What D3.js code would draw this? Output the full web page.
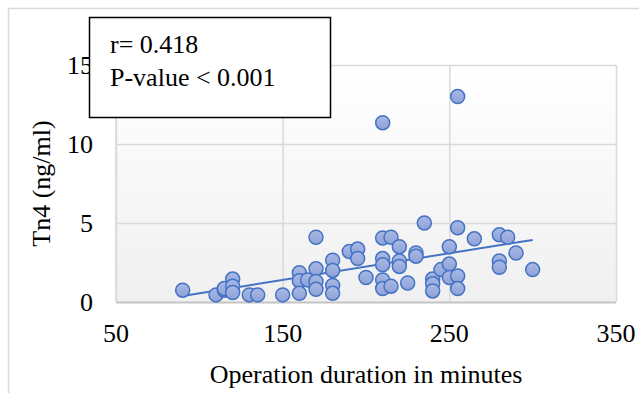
<!DOCTYPE html>
<html>
<head>
<meta charset="utf-8">
<script src="https://cdn.jsdelivr.net/npm/d3@7"></script>
<style>
  body { margin: 0; background: #fff; }
  text { font-family: "Liberation Serif", "Times New Roman", serif; fill: #000; }
</style>
</head>
<body>
<svg width="639" height="393"></svg>
<script>
// duration (minutes) and Tn4 (ng/ml)
var durations = [90, 110, 115, 115, 120, 120, 120, 130, 135, 150,
  160, 160, 160, 165, 170, 170, 170, 170, 180, 180, 180, 180,
  190, 195, 195, 200, 210, 210, 210, 210, 210, 210, 215, 215,
  220, 220, 220, 225, 230, 230, 235, 240, 240, 240, 245,
  250, 250, 250, 255, 255, 255, 255, 265, 280, 280, 280, 285, 290, 300];
var tn4 = [0.75, 0.45, 0.75, 0.85, 1.45, 1.0, 0.6, 0.45, 0.45, 0.45,
  1.85, 1.35, 0.55, 1.4, 4.1, 2.1, 1.3, 0.8, 2.65, 2.0, 1.05, 0.55,
  3.2, 3.35, 2.75, 1.55, 11.35, 4.05, 2.75, 2.35, 1.4, 0.85, 4.1, 1.0,
  3.5, 2.6, 2.25, 1.2, 3.1, 2.9, 5.0, 1.45, 1.15, 0.7, 2.05,
  3.5, 2.4, 1.55, 13.0, 4.7, 1.65, 0.85, 4.0, 4.25, 2.6, 2.2, 4.1, 3.1, 2.05];

// linear trendline as drawn in the picture (y = a*x + b)
var trendSlope = 0.0169;
var trendIntercept = -1.14;

var xTicks = [50, 150, 250, 350];
var yTicks = [0, 5, 10, 15];
var statLines = ["r= 0.418", "P-value < 0.001"];

var data = durations.map(function(d, i) { return {x: d, y: tn4[i]}; });

// plot area
var plotLeft = 116, plotRight = 616, plotTop = 65, plotBottom = 302;
var fontSize = "26px";

var svg = d3.select("svg");

var xScale = d3.scaleLinear().domain([50, 350]).range([plotLeft, plotRight]);
var yScale = d3.scaleLinear().domain([0, 15]).range([plotBottom, plotTop]);

// chart border (cropped on the right / bottom)
svg.append("rect")
    .attr("x", 8.5).attr("y", 8.5)
    .attr("width", 660).attr("height", 420)
    .style("fill", "none")
    .style("stroke", "#d9d9d9")
    .style("stroke-width", 1.5);

// plot area gradient
var defs = svg.append("defs");
var grad = defs.append("linearGradient")
    .attr("id", "plotBg")
    .attr("x1", 0).attr("y1", 0).attr("x2", 0).attr("y2", 1);
grad.append("stop").attr("offset", "0%").attr("stop-color", "#ffffff");
grad.append("stop").attr("offset", "100%").attr("stop-color", "#f0f0f0");

var dotGrad = defs.append("linearGradient")
    .attr("id", "dotFill")
    .attr("x1", 0).attr("y1", 0).attr("x2", 0).attr("y2", 1);
dotGrad.append("stop").attr("offset", "0%").attr("stop-color", "#a9b9e4");
dotGrad.append("stop").attr("offset", "100%").attr("stop-color", "#8ea2d8");

svg.append("rect")
    .attr("x", plotLeft).attr("y", plotTop)
    .attr("width", plotRight - plotLeft).attr("height", plotBottom - plotTop)
    .style("fill", "url(#plotBg)");

// grid lines
svg.append("g")
    .attr("transform", "translate(0," + plotBottom + ")")
    .call(d3.axisBottom(xScale).tickValues(xTicks).tickSize(-(plotBottom - plotTop)).tickFormat(""))
    .call(function(g) { g.select(".domain").remove(); })
    .selectAll("line")
    .style("stroke", "#d9d9d9")
    .style("stroke-width", 1.5);

svg.append("g")
    .attr("transform", "translate(" + plotLeft + ",0)")
    .call(d3.axisLeft(yScale).tickValues(yTicks).tickSize(-(plotRight - plotLeft)).tickFormat(""))
    .call(function(g) { g.select(".domain").remove(); })
    .selectAll("line")
    .style("stroke", function(d) { return d === 0 ? "#c4c4c4" : "#d9d9d9"; })
    .style("stroke-width", function(d) { return d === 0 ? 2 : 1.5; });

// left edge of plot
svg.append("line")
    .attr("x1", plotLeft).attr("x2", plotLeft)
    .attr("y1", plotTop).attr("y2", plotBottom)
    .style("stroke", "#d9d9d9")
    .style("stroke-width", 1.5);

// tick labels
svg.append("g").selectAll("text")
    .data(xTicks).enter().append("text")
    .attr("x", function(d) { return xScale(d); })
    .attr("y", 342)
    .attr("text-anchor", "middle")
    .style("font-size", fontSize)
    .text(function(d) { return d; });

svg.append("g").selectAll("text")
    .data(yTicks).enter().append("text")
    .attr("x", 93)
    .attr("y", function(d) { return yScale(d); })
    .attr("dy", "0.35em")
    .attr("text-anchor", "end")
    .style("font-size", fontSize)
    .text(function(d) { return d; });

// axis titles
svg.append("text")
    .attr("x", (plotLeft + plotRight) / 2)
    .attr("y", 383)
    .attr("text-anchor", "middle")
    .style("font-size", fontSize)
    .text("Operation duration in minutes");

svg.append("text")
    .attr("transform", "translate(50," + ((plotTop + plotBottom) / 2) + ") rotate(-90)")
    .attr("text-anchor", "middle")
    .style("font-size", fontSize)
    .text("Tn4 (ng/ml)");

// trend line over the data range
var xExt = d3.extent(durations);
svg.append("line")
    .attr("x1", xScale(xExt[0])).attr("y1", yScale(trendIntercept + trendSlope * xExt[0]))
    .attr("x2", xScale(xExt[1])).attr("y2", yScale(trendIntercept + trendSlope * xExt[1]))
    .style("stroke", "#4472c4")
    .style("stroke-width", 2);

// points
svg.append("g").selectAll("circle")
    .data(data).enter().append("circle")
    .attr("cx", function(d) { return xScale(d.x); })
    .attr("cy", function(d) { return yScale(d.y); })
    .attr("r", 7)
    .style("fill", "url(#dotFill)")
    .style("stroke", "#4472c4")
    .style("stroke-width", 1.5);

// stats box
svg.append("rect")
    .attr("x", 89.5).attr("y", 17.5)
    .attr("width", 241).attr("height", 100)
    .style("fill", "#fff")
    .style("stroke", "#000")
    .style("stroke-width", 1.5);

svg.append("g").selectAll("text")
    .data(statLines).enter().append("text")
    .attr("x", 110)
    .attr("y", function(d, i) { return 53 + i * 33; })
    .style("font-size", fontSize)
    .text(function(d) { return d; });
</script>
</body>
</html>
